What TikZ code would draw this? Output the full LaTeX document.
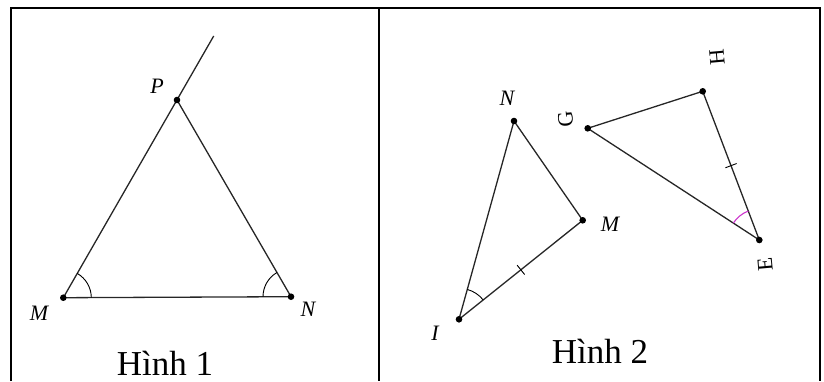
\documentclass[tikz,border=0pt]{standalone}
\usepackage{fontspec}
\setmainfont{Liberation Serif}
\usetikzlibrary{angles,calc}
\definecolor{arcpink}{RGB}{204,51,204}

\begin{document}
\begin{tikzpicture}[x=1pt, y=-1pt,
    dot/.style={fill=black},
    lbl/.style={font=\fontsize{22}{24}\selectfont\itshape, inner sep=0pt},
    rlbl/.style={font=\fontsize{22}{24}\selectfont, inner sep=0pt, rotate=95},
    captext/.style={font=\fontsize{35}{40}\selectfont, inner sep=0pt, anchor=base},
    seg/.style={line width=1.3pt, black!85},
    arcmark/.style={draw, line width=0.9pt, angle radius=28pt}]
    \useasboundingbox (0,0) rectangle (824,381);
    % table frame
    \draw[line width=2pt] (11,381) -- (11,8) -- (820,8) -- (820,381);
    \draw[line width=2pt] (378.5,8) -- (378.5,381);
    % Hinh 1
    \coordinate (M1) at (63.3,297.7);
    \coordinate (N1) at (291,296.7);
    \coordinate (P1) at (177,100);
    \coordinate (R1) at (213.7,36);
    \draw[seg] (M1) -- (R1);
    \draw[seg] (P1) -- (N1) -- (M1);
    \pic[arcmark] {angle = N1--M1--P1};
    \pic[arcmark] {angle = P1--N1--M1};
    \foreach \p in {M1,N1,P1} \fill[dot] (\p) circle (3.3);
    \node[lbl] (lP1) at (157,86) {P};
    \node[lbl] (lM1) at (39,313) {M};
    \node[lbl] (lN1) at (308,309) {N};
    \node[captext] (h1) at (165,375) {Hình 1};
    % Hinh 2
    \coordinate (N2) at (514,121);
    \coordinate (M2) at (582.7,220.3);
    \coordinate (I2) at (459,319.3);
    \coordinate (G2) at (587.7,128.3);
    \coordinate (H2) at (702.7,91.3);
    \coordinate (E2) at (759.3,240);
    \draw[seg] (I2) -- (N2) -- (M2) -- cycle;
    \draw[seg] (G2) -- (H2) -- (E2) -- cycle;
    \pic[arcmark, angle radius=31pt] {angle = M2--I2--N2};
    \pic[arcmark, arcpink, line width=1.1pt, angle radius=31pt] {angle = H2--E2--G2};
    \draw[line width=0.9pt] ($(I2)!0.5!(M2)!6pt!90:(M2)$) -- ($(I2)!0.5!(M2)!6pt!-90:(M2)$);
    \draw[line width=0.9pt] ($(H2)!0.5!(E2)!6pt!90:(E2)$) -- ($(H2)!0.5!(E2)!6pt!-90:(E2)$);
    \foreach \p in {N2,M2,I2,G2,H2,E2} \fill[dot] (\p) circle (3.3);
    \node[lbl] (lN2) at (507,98) {N};
    \node[lbl] (lM2) at (610,224) {M};
    \node[lbl] (lI2) at (435,333) {I};
    \node[rlbl] (lG2) at (565.5,119.5) {G};
    \node[rlbl] (lH2) at (717,57) {H};
    \node[rlbl] (lE2) at (765,264.5) {E};
    \node[captext] (h2) at (600,363) {Hình 2};
\end{tikzpicture}
\end{document}
